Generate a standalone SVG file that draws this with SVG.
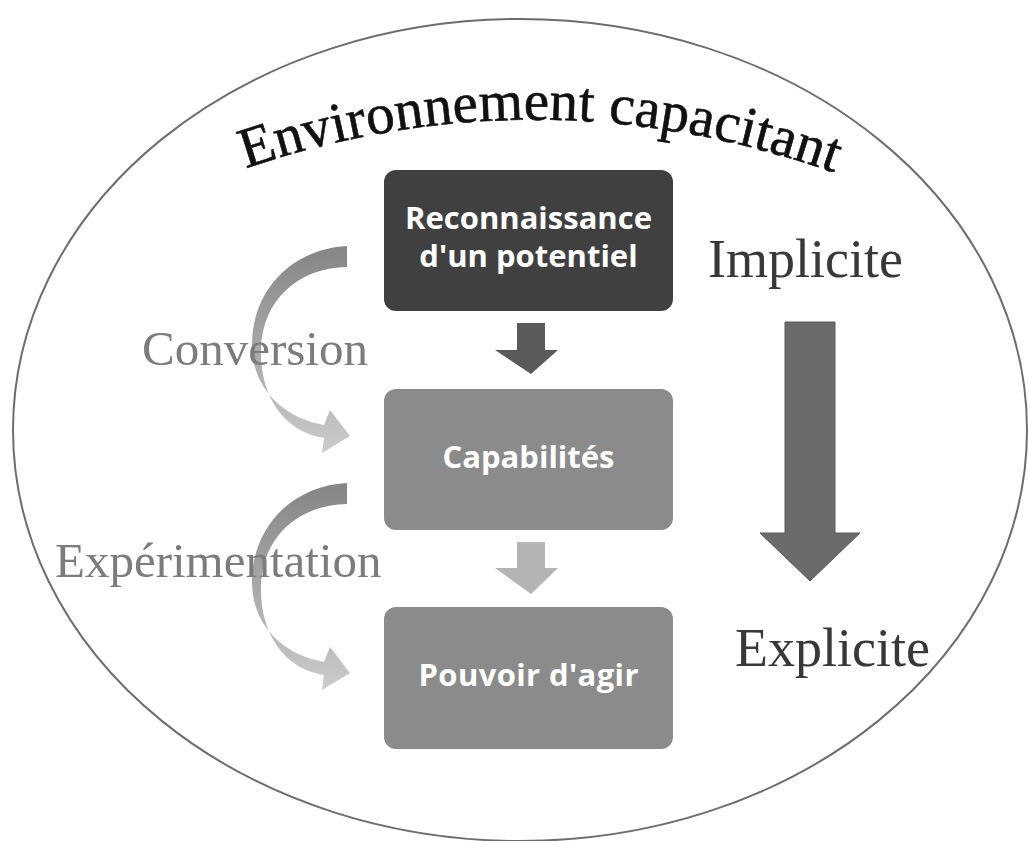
<svg xmlns="http://www.w3.org/2000/svg" width="1028" height="841" viewBox="0 0 1028 841">
  <style>
    .box-text { font-family: "Open Sans", "Liberation Sans", sans-serif; font-weight: 700; font-size: 31px; fill: #ffffff; text-anchor: middle; }
    .serif { font-family: "Liberation Serif", "Times New Roman", serif; }
    .side { font-size: 54px; fill: #383838; }
    .flow { font-size: 49px; fill: #7c7c7c; }
  </style>
  <defs>
    <linearGradient id="curveGrad" gradientUnits="userSpaceOnUse" x1="0" y1="246" x2="0" y2="458">
      <stop offset="0" stop-color="#858585"/>
      <stop offset="1" stop-color="#cdcdcd"/>
    </linearGradient>
    <path id="titleArc" d="M200,185 Q540,52 880,190"/>
    <path id="curvedArrow" d="M347,246 C292,249 252,290 252,345 C252,388 283,418 324,425 L330,410 L350,436 L322,453 L324,438 C284,432 260,396 261,350 C262,300 298,268 347,267 Z"/>
  </defs>
  <rect width="1028" height="841" fill="#ffffff"/>

  <g id="environment">
    <ellipse cx="520" cy="430" rx="507" ry="411" fill="none" stroke="#6e6e6e" stroke-width="2"/>
    <text class="serif" font-size="57" fill="#111111" stroke="#111111" stroke-width="0.6">
      <textPath href="#titleArc" startOffset="50%" text-anchor="middle" textLength="600" lengthAdjust="spacing">Environnement capacitant</textPath>
    </text>
  </g>

  <g id="connectors">
    <use href="#curvedArrow" fill="url(#curveGrad)"/>
    <use href="#curvedArrow" fill="url(#curveGrad)" transform="translate(0,237)"/>
    <polygon points="517,323 545,323 545,350 558,350 531,374 495,350 517,350" fill="#5a5a5a"/>
    <polygon points="517,542 545,542 545,568 558,568 531,594 495,568 517,568" fill="#b4b4b4"/>
    <polygon points="785,322 835,322 835,533 860,533 810,581 760,533 785,533" fill="#6b6b6b" stroke="#5a5a5a" stroke-width="1"/>
  </g>

  <g id="node-reconnaissance">
    <rect x="384" y="170" width="289" height="141" rx="12" fill="#404040"/>
    <text class="box-text" x="528.5" y="229">Reconnaissance</text>
    <text class="box-text" x="528.5" y="267">d'un potentiel</text>
  </g>

  <g id="node-capabilites">
    <rect x="384" y="389" width="289" height="141" rx="12" fill="#8b8b8b"/>
    <text class="box-text" x="528.5" y="468" textLength="172">Capabilités</text>
  </g>

  <g id="node-pouvoir">
    <rect x="384" y="607" width="289" height="142" rx="12" fill="#8b8b8b"/>
    <text class="box-text" x="528.5" y="686" textLength="220">Pouvoir d'agir</text>
  </g>

  <g id="label-conversion">
    <text class="serif flow" x="142" y="365">Conversion</text>
  </g>
  <g id="label-experimentation">
    <text class="serif flow" x="55" y="577" font-size="50">Expérimentation</text>
  </g>
  <g id="label-implicite">
    <text class="serif side" x="708" y="277">Implicite</text>
  </g>
  <g id="label-explicite">
    <text class="serif side" x="735" y="666">Explicite</text>
  </g>
</svg>
